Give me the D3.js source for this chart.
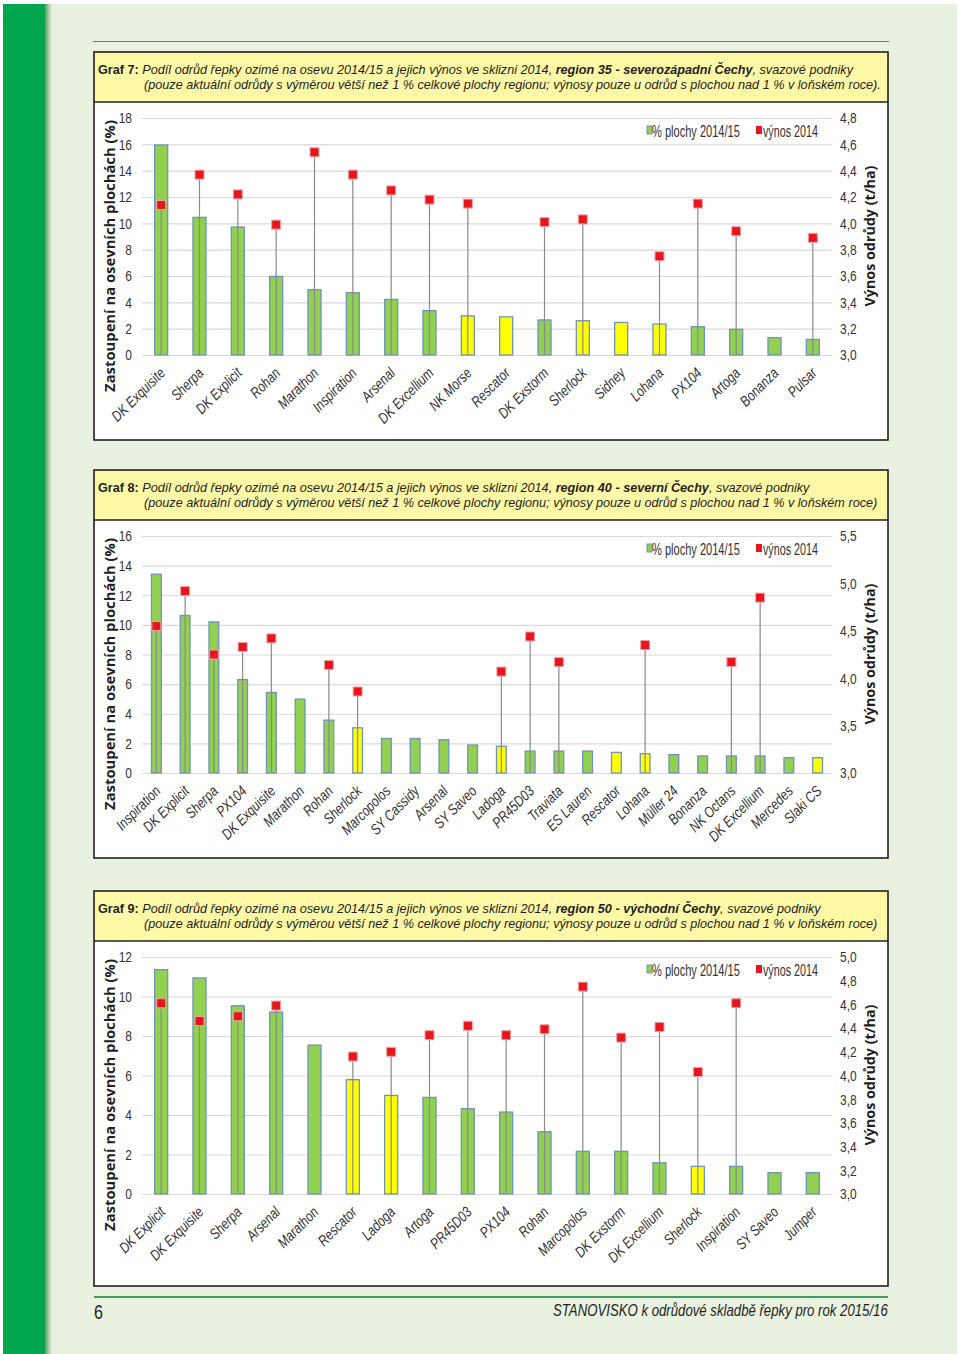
<!DOCTYPE html>
<html>
<head>
<meta charset="utf-8">
<script src="https://cdn.jsdelivr.net/npm/d3@7"></script>
<style>
  body { margin: 0; background: #ffffff; }
  svg { display: block; }
</style>
</head>
<body>
<svg id="page" width="960" height="1354"></svg>
<script>
// ---- Graf 7 : region 35 ----
var cats7 = ["DK Exquisite", "Sherpa", "DK Explicit", "Rohan", "Marathon", "Inspiration", "Arsenal", "DK Excellium", "NK Morse", "Rescator", "DK Exstorm", "Sherlock", "Sidney", "Lohana", "PX104", "Artoga", "Bonanza", "Pulsar"];
var plocha7 = [15.95, 10.45, 9.72, 5.97, 4.96, 4.73, 4.22, 3.37, 2.97, 2.9, 2.66, 2.6, 2.47, 2.35, 2.15, 1.95, 1.32, 1.18];
var vynos7 = [4.14, 4.37, 4.22, 3.99, 4.54, 4.37, 4.25, 4.18, 4.15, null, 4.01, 4.03, null, 3.75, 4.15, 3.94, null, 3.89];
var zlute7 = ["NK Morse", "Rescator", "Sherlock", "Sidney", "Lohana"];
var leftTicks7 = [0, 2, 4, 6, 8, 10, 12, 14, 16, 18];
var rightTicks7 = [3.0, 3.2, 3.4, 3.6, 3.8, 4.0, 4.2, 4.4, 4.6, 4.8];

// ---- Graf 8 : region 40 ----
var cats8 = ["Inspiration", "DK Explicit", "Sherpa", "PX104", "DK Exquisite", "Marathon", "Rohan", "Sherlock", "Marcopolos", "SY Cassidy", "Arsenal", "SY Saveo", "Ladoga", "PR45D03", "Traviata", "ES Lauren", "Rescator", "Lohana", "Müller 24", "Bonanza", "NK Octans", "DK Excellium", "Mercedes", "Slaki CS"];
var plocha8 = [13.42, 10.63, 10.2, 6.31, 5.44, 4.99, 3.57, 3.05, 2.33, 2.33, 2.24, 1.89, 1.8, 1.48, 1.48, 1.48, 1.39, 1.3, 1.24, 1.15, 1.15, 1.15, 1.03, 1.03];
var vynos8 = [4.55, 4.92, 4.25, 4.33, 4.42, null, 4.14, 3.86, null, null, null, null, 4.07, 4.44, 4.17, null, null, 4.35, null, null, 4.17, 4.85, null, null];
var zlute8 = ["Sherlock", "Ladoga", "Rescator", "Lohana", "Slaki CS"];
var leftTicks8 = [0, 2, 4, 6, 8, 10, 12, 14, 16];
var rightTicks8 = [3.0, 3.5, 4.0, 4.5, 5.0, 5.5];

// ---- Graf 9 : region 50 ----
var cats9 = ["DK Explicit", "DK Exquisite", "Sherpa", "Arsenal", "Marathon", "Rescator", "Ladoga", "Artoga", "PR45D03", "PX104", "Rohan", "Marcopolos", "DK Exstorm", "DK Excellium", "Sherlock", "Inspiration", "SY Saveo", "Jumper"];
var plocha9 = [11.36, 10.94, 9.53, 9.21, 7.54, 5.79, 4.99, 4.89, 4.32, 4.15, 3.15, 2.16, 2.16, 1.58, 1.4, 1.4, 1.08, 1.08];
var vynos9 = [4.61, 4.46, 4.5, 4.59, null, 4.16, 4.2, 4.34, 4.42, 4.34, 4.39, 4.75, 4.32, 4.41, 4.03, 4.61, null, null];
var zlute9 = ["Rescator", "Ladoga", "Sherlock"];
var leftTicks9 = [0, 2, 4, 6, 8, 10, 12];
var rightTicks9 = [3.0, 3.2, 3.4, 3.6, 3.8, 4.0, 4.2, 4.4, 4.6, 4.8, 5.0];

// no condensed font installed -> Liberation Sans squeezed horizontally (like Arial Narrow)
var font = "'Liberation Sans', Arial, sans-serif";
var boldFont = "'Open Sans', 'DejaVu Sans', sans-serif";
var SQ = 0.8;

var svg = d3.select("#page");

// page background + green stripe
var defs = svg.append("defs");
var grad = defs.append("linearGradient").attr("id", "stin");
grad.append("stop").attr("offset", "0").attr("stop-color", "#5f9a6a");
grad.append("stop").attr("offset", "1").attr("stop-color", "#e9f2e1");

svg.append("rect").attr("x", 3).attr("y", 4).attr("width", 954).attr("height", 1350).attr("fill", "#e9f2e1");
svg.append("rect").attr("x", 45).attr("y", 4).attr("width", 7).attr("height", 1350).attr("fill", "url(#stin)");
svg.append("rect").attr("x", 3).attr("y", 4).attr("width", 42).attr("height", 1350).attr("fill", "#00a550");

svg.append("line").attr("x1", 93).attr("x2", 889).attr("y1", 41.5).attr("y2", 41.5)
  .attr("stroke", "#3f9a64").attr("stroke-width", 1.2);

var titleScale = null;

function fitWidth(sel, w) {
  var cur = sel.node().getComputedTextLength();
  var fs = parseFloat(sel.attr("font-size"));
  sel.attr("font-size", fs * w / cur);
}

// horizontal squeeze so that text is w px wide; returns the factor
function squeezeTo(sel, x, y, w) {
  var cur = sel.node().getComputedTextLength();
  var k = w / cur;
  sel.attr("transform", "translate(" + x + "," + y + ") scale(" + k + ",1)");
  return k;
}

function carka(d) { return d.toFixed(1).replace(".", ","); }

function squeezeTicks(a) {
  a.select(".domain").remove();
  a.selectAll("text").attr("font-family", font).attr("font-size", 15).attr("fill", "#333333")
    .each(function () {
      var t = d3.select(this);
      t.attr("x", +t.attr("x") / SQ).attr("transform", "scale(" + SQ + ",1)");
    });
}

function graf(o) {
  var top = o.top, boxBottom = o.bottom;
  var g = svg.append("g");

  // box
  g.append("rect").attr("x", 94).attr("y", top).attr("width", 794).attr("height", 50)
    .attr("fill", "#fff8a6");
  g.append("rect").attr("x", 94).attr("y", top + 50).attr("width", 794).attr("height", boxBottom - top - 50)
    .attr("fill", "#ffffff");
  g.append("rect").attr("x", 94).attr("y", top).attr("width", 794).attr("height", boxBottom - top)
    .attr("fill", "none").attr("stroke", "#231f20").attr("stroke-width", 1.6);
  g.append("line").attr("x1", 94).attr("x2", 888).attr("y1", top + 50).attr("y2", top + 50)
    .attr("stroke", "#231f20").attr("stroke-width", 1.3);

  // title
  var t1 = g.append("text").attr("font-family", font)
    .attr("font-size", 13.5).attr("fill", "#231f20");
  t1.append("tspan").attr("font-weight", "bold").text("Graf " + o.num + ": ");
  t1.append("tspan").attr("font-style", "italic").text("Podíl odrůd řepky ozimé na osevu 2014/15 a jejich výnos ve sklizni 2014, ");
  t1.append("tspan").attr("font-style", "italic").attr("font-weight", "bold").text(o.region);
  t1.append("tspan").attr("font-style", "italic").text(", svazové podniky");
  var t2 = g.append("text").attr("font-family", font)
    .attr("font-size", 13.5).attr("font-style", "italic").attr("fill", "#231f20")
    .text("(pouze aktuální odrůdy s výměrou větší než 1 % celkové plochy regionu; výnosy pouze u odrůd s plochou nad 1 % v loňském roce)" + o.konec);
  if (titleScale === null) {
    titleScale = squeezeTo(t2, 144, top + 36, 737);
  }
  t1.attr("transform", "translate(98," + (top + 22) + ") scale(" + titleScale + ",1)");
  t2.attr("transform", "translate(144," + (top + 36.5) + ") scale(" + titleScale + ",1)");

  // scales
  var pTop = top + 66, pBot = pTop + 237;
  var x = d3.scaleBand().domain(o.cats).range([142, 832]);
  var y = d3.scaleLinear().domain([0, d3.max(o.leftTicks)]).range([pBot, pTop]);
  var y2 = d3.scaleLinear().domain([d3.min(o.rightTicks), d3.max(o.rightTicks)]).range([pBot, pTop]);
  var bw = x.bandwidth() * 0.34;

  // grid
  g.append("g").attr("transform", "translate(142,0)")
    .call(d3.axisLeft(y).tickValues(o.leftTicks).tickSize(-690).tickFormat(""))
    .call(function (a) {
      a.select(".domain").remove();
      a.selectAll("line").attr("stroke", "#d9d9d9").attr("stroke-width", 1.2);
    });

  // left axis
  g.append("g").attr("transform", "translate(142,0)")
    .call(d3.axisLeft(y).tickValues(o.leftTicks).tickSize(0).tickPadding(10))
    .call(squeezeTicks);

  // right axis
  g.append("g").attr("transform", "translate(832,0)")
    .call(d3.axisRight(y2).tickValues(o.rightTicks).tickSize(0).tickPadding(8).tickFormat(carka))
    .call(squeezeTicks);

  // bars
  g.selectAll(".bar").data(o.cats).enter().append("rect")
    .attr("x", function (d) { return x(d) + x.bandwidth() / 2 - bw / 2; })
    .attr("y", function (d, i) { return y(o.pct[i]); })
    .attr("width", bw)
    .attr("height", function (d, i) { return pBot - y(o.pct[i]); })
    .attr("fill", function (d) { return o.yellow.indexOf(d) >= 0 ? "#ffff00" : "#92d050"; })
    .attr("stroke", "#6f94bd").attr("stroke-width", 1.3);

  // drop lines + markers
  var vv = o.cats.map(function (c, i) { return { c: c, v: o.vynos[i] }; })
    .filter(function (d) { return d.v !== null; });
  g.selectAll(".drop").data(vv).enter().append("line")
    .attr("x1", function (d) { return x(d.c) + x.bandwidth() / 2; })
    .attr("x2", function (d) { return x(d.c) + x.bandwidth() / 2; })
    .attr("y1", pBot).attr("y2", function (d) { return y2(d.v); })
    .attr("stroke", "#8a8a8a").attr("stroke-width", 1.2);
  g.selectAll(".mark").data(vv).enter().append("rect")
    .attr("x", function (d) { return x(d.c) + x.bandwidth() / 2 - 4.5; })
    .attr("y", function (d) { return y2(d.v) - 4.5; })
    .attr("width", 9).attr("height", 9)
    .attr("fill", "#e5161e").attr("stroke", "#f3a3a3").attr("stroke-width", 1);

  // category labels
  g.selectAll(".cat").data(o.cats).enter().append("text")
    .attr("transform", function (d) {
      return "translate(" + (x(d) + x.bandwidth() / 2 + 5) + "," + (pBot + 19) + ") rotate(-45) scale(" + SQ + ",1)";
    })
    .attr("text-anchor", "end")
    .attr("font-family", font).attr("font-size", 15).attr("font-style", "italic")
    .attr("fill", "#333333")
    .text(function (d) { return d; });

  // axis titles
  var lt = g.append("text")
    .attr("transform", "translate(115," + (pTop + 138) + ") rotate(-90)")
    .attr("text-anchor", "middle").attr("font-family", boldFont).attr("font-weight", "bold")
    .attr("font-size", 13).attr("fill", "#231f20")
    .text("Zastoupení na osevních plochách (%)");
  fitWidth(lt, 272);
  var rt = g.append("text")
    .attr("transform", "translate(875," + (pTop + 118) + ") rotate(-90)")
    .attr("text-anchor", "middle").attr("font-family", boldFont).attr("font-weight", "bold")
    .attr("font-size", 13).attr("fill", "#231f20")
    .text("Výnos odrůdy (t/ha)");
  fitWidth(rt, 141);

  // legend
  var ly = pTop + 13;
  g.append("rect").attr("x", 647).attr("y", ly - 5).attr("width", 5).attr("height", 8)
    .attr("fill", "#92d050").attr("stroke", "#6f94bd").attr("stroke-width", 1);
  var l1 = g.append("text").attr("font-family", font).attr("font-size", 16.5)
    .attr("fill", "#333333").text("% plochy 2014/15");
  squeezeTo(l1, 652, ly + 6, 88);
  g.append("rect").attr("x", 756).attr("y", ly - 5).attr("width", 6).attr("height", 8)
    .attr("fill", "#e5161e");
  var l2 = g.append("text").attr("font-family", font).attr("font-size", 16.5)
    .attr("fill", "#333333").text("výnos 2014");
  squeezeTo(l2, 763, ly + 6, 55);
}

graf({ num: 7, top: 52, bottom: 440, region: "region 35 - severozápadní Čechy", konec: ".",
  cats: cats7, pct: plocha7, vynos: vynos7, yellow: zlute7, leftTicks: leftTicks7, rightTicks: rightTicks7 });
graf({ num: 8, top: 470, bottom: 858, region: "region 40 - severní Čechy", konec: "",
  cats: cats8, pct: plocha8, vynos: vynos8, yellow: zlute8, leftTicks: leftTicks8, rightTicks: rightTicks8 });
graf({ num: 9, top: 891, bottom: 1286, region: "region 50 - východní Čechy", konec: "",
  cats: cats9, pct: plocha9, vynos: vynos9, yellow: zlute9, leftTicks: leftTicks9, rightTicks: rightTicks9 });

// footer
svg.append("line").attr("x1", 94).attr("x2", 888).attr("y1", 1297).attr("y2", 1297)
  .attr("stroke", "#3f9a64").attr("stroke-width", 2);
var six = svg.append("text").attr("font-family", font).attr("font-size", 20)
  .attr("fill", "#231f20").text("6");
six.attr("transform", "translate(94,1319) scale(" + SQ + ",1)");
var ft = svg.append("text").attr("font-family", font).attr("font-size", 16)
  .attr("font-style", "italic").attr("fill", "#231f20")
  .text("STANOVISKO k odrůdové skladbě řepky pro rok 2015/16");
squeezeTo(ft, 553, 1316, 335);
</script>
</body>
</html>
